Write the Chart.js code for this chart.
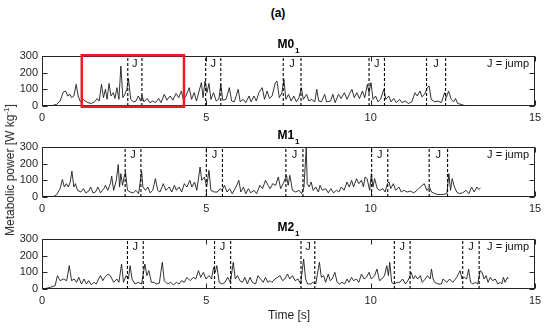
<!DOCTYPE html>
<html>
<head>
<meta charset="utf-8">
<script src="https://cdn.jsdelivr.net/npm/chart.js@4.4.1/dist/chart.umd.min.js"></script>
<style>
html,body{margin:0;padding:0;background:#fff;}
body{width:550px;height:328px;position:relative;overflow:hidden;font-family:"Liberation Sans",Arial,Helvetica,sans-serif;color:#262626;}
canvas{position:absolute;left:0;}
.txt{position:absolute;white-space:nowrap;transform:translate(-50%,-50%);}
#fig{left:278px;top:13px;font-size:12px;font-weight:bold;color:#000;}
#xl{left:289px;top:315px;font-size:12px;}
#yl{left:10px;top:170px;font-size:12px;transform:translate(-50%,-50%) rotate(-90deg);}
#yl sup{font-size:8px;vertical-align:5px;line-height:0;}
</style>
</head>
<body>
<div class="txt" id="fig">(a)</div>
<canvas id="c0" width="550" height="96" style="top:30px"></canvas>
<canvas id="c1" width="550" height="96" style="top:121px"></canvas>
<canvas id="c2" width="550" height="96" style="top:213px"></canvas>
<div class="txt" id="xl">Time [s]</div>
<div class="txt" id="yl">Metabolic power [W kg<sup>-1</sup>]</div>
<script>
// ---------- data ----------
const panelNames = ["M0", "M1", "M2"];
const panelSub = "1";
const xTicks = [0, 5, 10, 15];
const yTicks = [0, 100, 200, 300];
const jumpLabel = "J";
const legendText = "J = jump";

const time0 = [0,0.3,0.45,0.55,0.65,0.72,0.78,0.85,0.9,0.97,1.04,1.1,1.17,1.25,1.32,1.4,1.5,1.6,1.68,1.74,1.81,1.87,1.93,1.98,2.04,2.1,2.17,2.22,2.28,2.34,2.4,2.46,2.52,2.58,2.63,2.7,2.78,2.86,2.93,3.0,3.04,3.1,3.2,3.28,3.37,3.45,3.55,3.62,3.72,3.8,3.9,3.98,4.08,4.16,4.24,4.3,4.38,4.48,4.55,4.63,4.7,4.78,4.85,4.9,4.96,5.02,5.08,5.14,5.22,5.3,5.38,5.44,5.5,5.6,5.7,5.77,5.85,5.97,6.03,6.12,6.2,6.3,6.36,6.45,6.52,6.6,6.7,6.77,6.85,6.92,7.0,7.1,7.15,7.22,7.3,7.36,7.42,7.5,7.58,7.66,7.74,7.82,7.89,7.95,8.05,8.12,8.2,8.3,8.36,8.42,8.5,8.6,8.66,8.78,8.85,8.92,9.02,9.1,9.2,9.28,9.36,9.43,9.5,9.58,9.66,9.75,9.82,9.9,9.95,10.01,10.07,10.15,10.22,10.3,10.4,10.46,10.55,10.62,10.7,10.78,10.88,10.95,11.05,11.15,11.25,11.35,11.42,11.5,11.56,11.64,11.72,11.78,11.84,11.95,12.05,12.15,12.25,12.3,12.37,12.45,12.52,12.58,12.65,12.75,12.85,12.95];
const power0 = [0,2,10,30,85,90,60,70,50,60,130,60,25,40,30,20,15,25,45,30,130,50,100,40,135,60,80,45,110,40,240,50,70,100,165,40,25,30,60,30,65,25,45,20,30,20,45,20,70,35,60,35,75,50,90,40,60,110,40,80,30,90,140,50,150,80,135,40,80,30,40,130,35,40,110,30,25,100,25,40,20,60,25,60,30,80,110,40,90,45,60,140,150,50,80,160,40,70,30,60,25,50,110,40,70,30,40,25,100,30,25,70,25,30,70,20,70,45,80,40,75,100,50,80,45,90,50,130,80,140,40,60,25,40,100,40,60,25,45,20,40,20,30,15,25,80,60,90,55,70,110,120,40,25,30,20,80,50,90,40,25,45,15,10,3,0];

const time1 = [0,0.35,0.45,0.55,0.62,0.68,0.74,0.8,0.86,0.91,0.97,1.02,1.08,1.18,1.26,1.33,1.42,1.48,1.55,1.63,1.7,1.78,1.88,1.93,2.0,2.08,2.12,2.18,2.26,2.32,2.36,2.4,2.45,2.5,2.54,2.6,2.68,2.78,2.86,2.94,3.03,3.07,3.15,3.22,3.29,3.37,3.45,3.52,3.59,3.69,3.77,3.87,3.95,4.03,4.09,4.17,4.25,4.33,4.41,4.5,4.56,4.64,4.71,4.81,4.86,4.94,5.01,5.08,5.14,5.24,5.34,5.42,5.48,5.55,5.63,5.71,5.79,5.9,5.99,6.05,6.13,6.2,6.28,6.35,6.45,6.53,6.63,6.71,6.8,6.88,6.94,7.02,7.11,7.19,7.26,7.34,7.44,7.49,7.54,7.62,7.72,7.82,7.9,7.97,8.04,8.07,8.13,8.19,8.25,8.33,8.41,8.46,8.53,8.63,8.71,8.79,8.87,8.96,9.03,9.11,9.19,9.28,9.35,9.42,9.48,9.57,9.64,9.72,9.78,9.83,9.89,9.97,10.02,10.07,10.12,10.2,10.28,10.37,10.44,10.51,10.56,10.61,10.69,10.76,10.86,10.93,11.01,11.11,11.21,11.31,11.41,11.51,11.63,11.71,11.79,11.85,11.95,12.05,12.2,12.32,12.38,12.43,12.48,12.55,12.62,12.7,12.8,12.9,12.99,13.07,13.15,13.23,13.29,13.34];
const power1 = [0,2,15,50,105,60,80,60,90,155,60,80,40,30,50,25,35,60,25,30,60,25,50,70,40,80,125,40,100,195,60,140,70,120,150,40,30,25,40,20,155,60,40,60,25,40,110,40,30,80,40,60,30,70,40,60,30,80,60,100,60,90,40,180,100,120,60,160,40,30,30,50,40,70,30,50,20,60,100,30,60,20,50,25,40,20,70,50,100,70,50,80,70,120,50,80,130,70,130,40,30,40,20,60,295,80,60,90,40,60,30,70,40,50,25,50,25,40,30,60,40,90,60,100,60,110,80,100,60,120,110,40,140,60,110,50,40,50,30,80,90,50,80,40,60,30,40,30,35,25,40,60,80,40,60,30,20,15,15,20,140,40,110,60,30,20,25,40,20,60,30,60,45,55];

const time2 = [0,0.05,0.25,0.4,0.47,0.55,0.65,0.75,0.83,0.9,0.98,1.05,1.12,1.2,1.28,1.35,1.42,1.5,1.58,1.65,1.72,1.78,1.85,1.91,2.01,2.08,2.18,2.28,2.34,2.42,2.48,2.56,2.63,2.68,2.74,2.83,2.93,3.03,3.13,3.19,3.25,3.33,3.42,3.47,3.57,3.66,3.72,3.82,3.91,4.0,4.09,4.17,4.25,4.33,4.41,4.51,4.6,4.68,4.76,4.83,4.91,4.99,5.08,5.16,5.22,5.27,5.32,5.39,5.48,5.57,5.65,5.73,5.82,5.88,5.95,6.02,6.1,6.17,6.25,6.33,6.4,6.5,6.57,6.65,6.73,6.8,6.87,6.94,6.99,7.09,7.24,7.32,7.39,7.47,7.54,7.62,7.7,7.79,7.87,7.96,8.02,8.08,8.18,8.23,8.33,8.44,8.5,8.57,8.63,8.71,8.77,8.83,8.91,8.98,9.05,9.13,9.21,9.28,9.34,9.42,9.48,9.57,9.64,9.72,9.8,9.87,9.95,10.02,10.12,10.19,10.27,10.34,10.42,10.49,10.54,10.58,10.64,10.71,10.81,10.89,10.97,11.06,11.16,11.23,11.3,11.36,11.43,11.51,11.57,11.66,11.73,11.81,11.85,11.9,11.95,12.05,12.15,12.2,12.32,12.4,12.5,12.62,12.72,12.78,12.85,12.92,12.98,13.04,13.11,13.19,13.26,13.33,13.39,13.45,13.51,13.57,13.64,13.71,13.79,13.87,13.94,13.99,14.04,14.09,14.16,14.19];
const power2 = [0,0,10,20,80,50,60,50,140,50,60,40,70,30,60,30,50,25,40,30,60,80,50,70,90,80,40,60,40,150,40,80,60,140,60,30,40,30,150,80,110,40,40,30,35,160,50,30,40,25,40,30,50,40,70,50,70,60,110,70,100,60,80,60,130,100,140,40,30,40,70,40,160,60,80,50,40,70,30,70,40,30,80,60,40,70,40,50,40,60,80,50,60,90,60,80,50,60,30,180,60,30,30,40,30,160,70,80,40,90,50,60,100,40,30,40,30,60,40,70,50,60,40,90,60,70,100,60,80,120,50,60,80,140,80,160,40,30,40,40,60,30,60,100,60,80,60,80,40,60,80,60,120,60,40,30,30,60,40,60,40,70,110,60,70,60,120,40,30,40,30,110,100,60,80,40,70,50,60,30,40,30,70,40,70,60];

const jumps0 = [[2.61,3.04],[4.98,5.44],[7.34,7.88],[9.95,10.42],[11.70,12.28]];
const jumps1 = [[2.53,3.01],[5.0,5.49],[7.42,7.94],[10.03,10.52],[11.78,12.34]];
const jumps2 = [[2.6,3.08],[5.25,5.74],[7.88,8.30],[10.72,11.2],[12.8,13.3]];

const boxX = [1.21, 4.32];
const boxY = [-4, 304];

// ---------- drawing ----------
Chart.defaults.font.family = '"Liberation Sans", Arial, Helvetica, sans-serif';
const AXIS = '#262626';

const decor = {
  id: 'decor',
  beforeDatasetsDraw(chart) {
    const {ctx, chartArea: a, scales} = chart;
    ctx.save();
    ctx.strokeStyle = AXIS;
    ctx.lineWidth = 1;
    const L = Math.round(a.left) + 0.5, R = Math.round(a.right) - 0.5;
    const T = Math.round(a.top) + 0.5, B = Math.round(a.bottom) - 0.5;
    ctx.strokeRect(L, T, R - L, B - T);
    ctx.beginPath();
    yTicks.forEach(v => {
      const y = Math.round(scales.y.getPixelForValue(v)) + 0.5;
      ctx.moveTo(L, y); ctx.lineTo(L + 5, y);
      ctx.moveTo(R, y); ctx.lineTo(R - 5, y);
    });
    xTicks.forEach(v => {
      const x = Math.round(scales.x.getPixelForValue(v)) + 0.5;
      ctx.moveTo(x, B); ctx.lineTo(x, B - 5);
      ctx.moveTo(x, T); ctx.lineTo(x, T + 5);
    });
    ctx.stroke();
    ctx.restore();
  },
  afterDatasetsDraw(chart, args, opts) {
    const {ctx, chartArea: a, scales} = chart;
    ctx.save();
    ctx.fillStyle = '#111';
    ctx.font = '11px "Liberation Sans", Arial, sans-serif';
    ctx.textAlign = 'center';
    ctx.textBaseline = 'middle';
    opts.jumps.forEach(p => {
      const x = scales.x.getPixelForValue((p[0] + p[1]) / 2);
      ctx.fillText(jumpLabel, x, a.top + 8);
    });
    ctx.textAlign = 'right';
    ctx.fillText(legendText, a.right - 6, a.top + 8);
    // title
    ctx.fillStyle = '#000';
    ctx.font = 'bold 12px "Liberation Sans", Arial, sans-serif';
    const w1 = ctx.measureText(opts.title).width;
    ctx.font = 'bold 8px "Liberation Sans", Arial, sans-serif';
    const w2 = ctx.measureText(panelSub).width;
    const cx = (a.left + a.right) / 2;
    const x0 = cx - (w1 + w2 + 1) / 2;
    ctx.textAlign = 'left';
    ctx.textBaseline = 'alphabetic';
    ctx.font = 'bold 12px "Liberation Sans", Arial, sans-serif';
    ctx.fillText(opts.title, x0, a.top - 8);
    ctx.font = 'bold 8px "Liberation Sans", Arial, sans-serif';
    ctx.fillText(panelSub, x0 + w1 + 1, a.top - 3);
    ctx.restore();
  }
};

function makeChart(id, times, powers, jumps, title, withBox) {
  const jumpData = [];
  jumps.forEach(p => p.forEach(j => {
    jumpData.push({x: j, y: 0}, {x: j, y: 300}, {x: j, y: null});
  }));
  const datasets = [
    {data: times.map((t, i) => ({x: t, y: powers[i]})), borderColor: '#1c1c1c', borderWidth: 0.9,
     pointRadius: 0, tension: 0, order: 3},
    {data: jumpData, borderColor: '#000', borderWidth: 1.1, borderDash: [3, 2],
     pointRadius: 0, spanGaps: false, order: 2}
  ];
  if (withBox) {
    datasets.push({
      data: [{x: boxX[0], y: boxY[1]}, {x: boxX[1], y: boxY[1]}, {x: boxX[1], y: boxY[0]},
             {x: boxX[0], y: boxY[0]}, {x: boxX[0], y: boxY[1]}],
      borderColor: '#ec1c24', borderWidth: 2.5, pointRadius: 0, clip: false,
      borderJoinStyle: 'miter', borderCapStyle: 'square', order: 1
    });
  }
  return new Chart(document.getElementById(id), {
    type: 'line',
    data: {datasets},
    options: {
      responsive: false,
      animation: false,
      events: [],
      layout: {padding: {top: 26, right: 15, left: 0, bottom: 0}},
      plugins: {legend: {display: false}, tooltip: {enabled: false}, decor: {jumps, title}},
      scales: {
        x: {
          type: 'linear', min: 0, max: 15,
          afterBuildTicks: s => { s.ticks = xTicks.map(v => ({value: v})); },
          ticks: {font: {size: 11}, color: AXIS, padding: 5, maxRotation: 0, autoSkip: false},
          grid: {display: false, drawTicks: false},
          border: {display: false},
          afterFit: s => { s.height = 20; }
        },
        y: {
          type: 'linear', min: 0, max: 300,
          afterBuildTicks: s => { s.ticks = yTicks.map(v => ({value: v})); },
          ticks: {font: {size: 11}, color: AXIS, padding: 4},
          grid: {display: false, drawTicks: false},
          border: {display: false},
          afterFit: s => { s.width = 42; }
        }
      }
    },
    plugins: [decor]
  });
}

makeChart('c0', time0, power0, jumps0, panelNames[0], true);
makeChart('c1', time1, power1, jumps1, panelNames[1], false);
makeChart('c2', time2, power2, jumps2, panelNames[2], false);
</script>
</body>
</html>
